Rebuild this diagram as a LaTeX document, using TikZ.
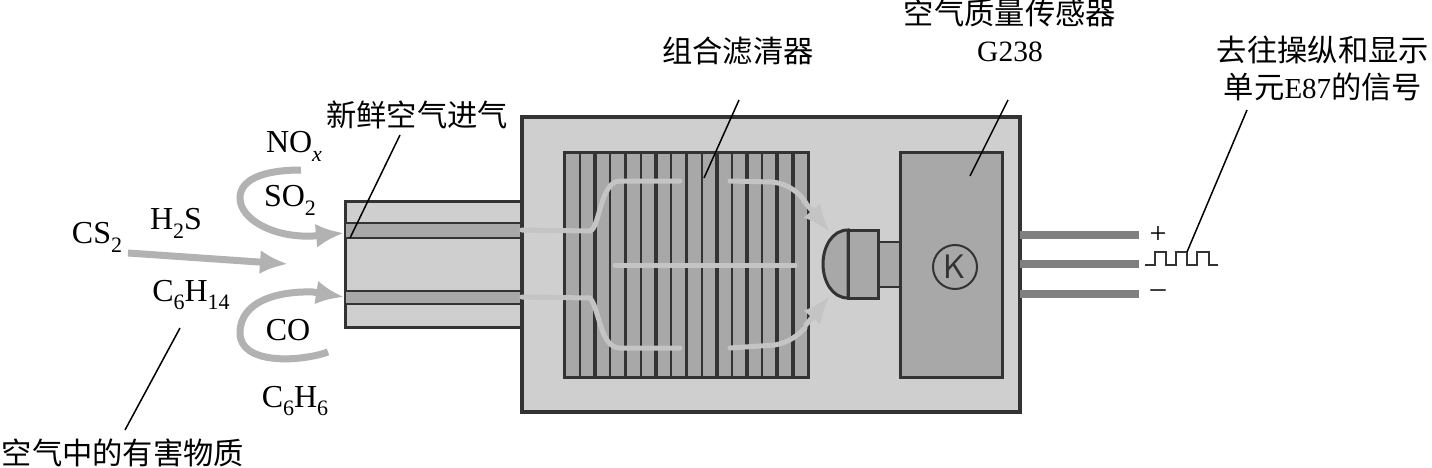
\documentclass[tikz,border=0pt]{standalone}
\usepackage{fontspec}
\setmainfont{Liberation Serif}
\newfontfamily\cjk{Noto Sans CJK SC}
\usetikzlibrary{arrows.meta}
\newcommand\sbs[1]{\raisebox{-0.28em}{\fontsize{22}{22}\selectfont #1}}
\definecolor{ink}{gray}{0.2}
\definecolor{pale}{gray}{0.81}
\definecolor{mid}{gray}{0.66}
\definecolor{flow}{gray}{0.77}
\definecolor{gas}{gray}{0.70}
\definecolor{wire}{gray}{0.50}
\tikzset{
  x=1pt,y=-1pt,
  box/.style={draw=ink,line width=3pt,anchor=north west,inner sep=0pt,outer sep=0pt},
  lab/.style={font=\fontsize{32}{38}\selectfont,text=black,inner sep=0pt,align=center},
  cn/.style={font=\cjk\fontsize{30.3}{37}\selectfont,text=black,inner sep=0pt,align=center},
  leader/.style={draw=black,line width=1.5pt},
  airflow/.style={draw=flow,line width=5pt,line cap=round},
  airhead/.style={draw=flow,line width=5pt,-{Latex[length=28pt,width=22pt]}},
  gasarrow/.style={draw=gas,line width=7pt,-{Latex[length=28pt,width=24pt]}},
  stripeA/.style={draw=ink,line width=3.2pt},
  stripeB/.style={draw=ink,line width=1.8pt},
  wireline/.style={draw=wire,line width=7.5pt},
}
\begin{document}
\begin{tikzpicture}
\useasboundingbox (0,0) rectangle (1432,468);
\fill[white] (0,0) rectangle (1432,468);
% inlet
\node[box,fill=pale,minimum width=177pt,minimum height=126pt] (inlet) at (345,201) {};
\node[box,fill=mid,line width=2.5pt,minimum width=177pt,minimum height=15pt] (bandA) at (345,223) {};
\node[box,fill=mid,line width=2.5pt,minimum width=177pt,minimum height=13pt] (bandB) at (345,291) {};
% housing
\node[box,fill=pale,line width=3.5pt,minimum width=498pt,minimum height=295pt] (housing) at (522,117) {};
% filter
\node[box,fill=mid,minimum width=244pt,minimum height=224pt] (filter) at (564,153) {};
\foreach \x in {595,625.5,656,686.5,717,747,777,793}
  \draw[stripeA] (\x,153) -- (\x,377);
\foreach \x in {580,610,641,671,702,732,762}
  \draw[stripeB] (\x,153) -- (\x,377);
% sensor
\node[box,fill=mid,minimum width=102pt,minimum height=224pt] (sensor) at (900,153) {};
\node[draw=ink,line width=2pt,circle,minimum size=44pt,inner sep=0pt,font=\fontsize{34}{34}\selectfont\sffamily,text=ink] (relay) at (955,267) {K};
% probe
\node[box,fill=mid,line width=2.5pt,minimum width=22pt,minimum height=45pt] (neck) at (878,242) {};
\node[box,fill=mid,minimum width=30pt,minimum height=68pt] (probe) at (848,230) {};
\draw[draw=ink,fill=mid,line width=3pt] (848,230) .. controls (832,230) and (823,247) .. (823,264) .. controls (823,281) and (832,298) .. (848,298) -- cycle;
% air flow
\coordinate (inA) at (522,230);
\coordinate (inB) at (522,297);
\coordinate (outA) at (830,232);
\coordinate (outB) at (830,296);
\draw[airflow] (inA) -- (590,231) .. controls (600,228) and (600,181) .. (620,181) -- (680,181);
\draw[airflow] (730,181) -- (772,182) .. controls (790,184) and (800,194) .. (806,203);
\draw[airhead,line cap=butt] (803,200) -- (outA);
\draw[airflow] (inB) -- (590,298) .. controls (600,310) and (600,348) .. (620,348) -- (680,348);
\draw[airflow] (730,348) -- (775,345) .. controls (790,342) and (798,335) .. (805,328);
\draw[airhead,line cap=butt] (805,326) -- (outB);
\draw[airflow] (615,265) -- (795,265);
% wires
\coordinate (wp) at (1139,235);
\coordinate (ws) at (1139,264);
\coordinate (wm) at (1139,294);
\draw[wireline] (1020,235) -- (wp);
\draw[wireline] (1020,264) -- (ws);
\draw[wireline] (1020,294) -- (wm);
\node[font=\fontsize{30}{30}\selectfont,inner sep=0pt] (plus) at (1158,235) {+};
\node[font=\fontsize{30}{30}\selectfont,inner sep=0pt] (minus) at (1158,294) {–};
\coordinate (pulse) at (1187,252);
\draw[draw=ink,line width=2.8pt,line join=miter] (1145,265) -- (1155,265) -- (1155,252) -- (1166,252) -- (1166,265) -- (1176,265) -- (1176,252) -- (pulse) -- (1187,265) -- (1197,265) -- (1197,252) -- (1209,252) -- (1209,265) -- (1218,265);
% gas arrows
\draw[gasarrow] (301,170) .. controls (262,170) and (240,180) .. (240,198) .. controls (240,220) and (275,238) .. (313,236) -- (344,233);
\draw[gasarrow] (128,253) -- (288,264);
\draw[gasarrow] (328,352) .. controls (300,362) and (240,365) .. (240,333) .. controls (240,300) and (280,291) .. (313,292) -- (344,297);
% text
\node[cn] (tsensor) at (1010,13) {空气质量传感器};
\node[lab,font=\fontsize{29.5}{36}\selectfont] (tg) at (1010,52) {G238};
\node[cn] (tfilter) at (738,51) {组合滤清器};
\node[cn] (tfresh) at (417,115) {新鲜空气进气};
\node[cn] (tsig) at (1323,68) {去往操纵和显示\\单元{\fontfamily{\rmdefault}\selectfont\fontsize{29}{34}\selectfont E87}的信号};
\node[cn] (tharm) at (123,453) {空气中的有害物质};
\node[lab] (nox) at (294,146) {NO\sbs{\textit{x}}};
\node[lab] (so2) at (290,200) {SO\sbs{2}};
\node[lab] (cs2) at (97,237) {CS\sbs{2}};
\node[lab] (h2s) at (176,223) {H\sbs{2}S};
\node[lab] (c6h14) at (191,295) {C\sbs{6}H\sbs{14}};
\node[lab] (co) at (288,330) {CO};
\node[lab] (c6h6) at (295,401) {C\sbs{6}H\sbs{6}};
% leaders
\coordinate (lfilter) at (704,178);
\coordinate (lsensor) at (970,176);
\coordinate (lfresh) at (350,238);
\coordinate (lgas) at (180,328);
\draw[leader] (739,100) -- (lfilter);
\draw[leader] (1008,100) -- (lsensor);
\draw[leader] (400,135) -- (lfresh);
\draw[leader] (lgas) -- (125,430);
\draw[leader] (1247,110) -- (pulse);
\end{tikzpicture}
\end{document}
